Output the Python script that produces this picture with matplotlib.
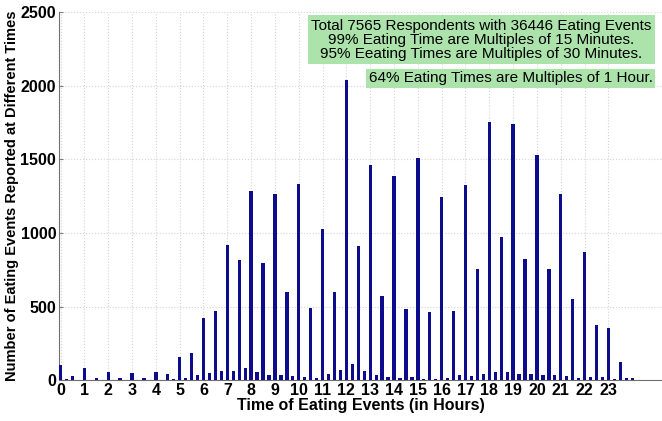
import matplotlib.pyplot as plt
import numpy as np

plt.rcParams['font.family'] = ['Liberation Sans', 'DejaVu Sans']

# eating events counted per 15-minute slot, 0:00 .. 24:00
counts = [105, 8, 30, 3, 80, 4, 16, 3,
          57, 4, 18, 3, 52, 3, 13, 3,
          55, 4, 41, 7, 158, 13, 187, 32,
          421, 52, 473, 61, 916, 64, 818, 80,
          1285, 54, 798, 34, 1262, 32, 600, 27,
          1332, 23, 487, 14, 1028, 41, 600, 68,
          2038, 108, 914, 62, 1465, 34, 570, 20,
          1386, 14, 486, 23, 1510, 9, 460, 5,
          1244, 14, 470, 32, 1328, 29, 752, 41,
          1752, 56, 971, 54, 1742, 45, 822, 45,
          1528, 34, 754, 34, 1266, 27, 550, 18,
          869, 20, 376, 23, 356, 11, 124, 16,
          14]
hours = np.arange(len(counts)) * 0.25
hour_ticks = list(range(24))

box_lines = ['Total 7565 Respondents with 36446 Eating Events',
             '99% Eating Time are Multiples of 15 Minutes.',
             '95% Eeating Times are Multiples of 30 Minutes.']
box_last = '64% Eating Times are Multiples of 1 Hour.'

fig = plt.figure(figsize=(6.62, 4.21), dpi=100)
ax = fig.add_axes([0.089, 0.097, 0.911, 0.874])

ax.bar(hours, counts, width=0.14, color='#0c0c8c', align='center', zorder=3)

ax.set_xlim(-0.07, 25.25)
ax.set_ylim(0, 2500)
ax.set_xticks(hour_ticks)
ax.set_yticks([0, 500, 1000, 1500, 2000, 2500])
ax.grid(True, linestyle=':', color='#d4d4d4', linewidth=0.8, zorder=0)
for lbl in ax.get_xticklabels() + ax.get_yticklabels():
    lbl.set_fontweight('bold')
    lbl.set_fontsize(11.5)
ax.tick_params(direction='in', length=3, pad=2, color='#808080')
ax.spines['top'].set_visible(False)
ax.spines['right'].set_visible(False)
ax.spines['left'].set_color('#707070')
ax.spines['bottom'].set_color('#707070')

ax.set_xlabel('Time of Eating Events (in Hours)', fontsize=11.5, fontweight='bold', labelpad=0)
ax.set_ylabel('Number of Eating Events Reported at Different Times', fontsize=10.5,
              fontweight='bold', labelpad=1)

ax.text(0.70, 0.925, '\n'.join(box_lines), transform=ax.transAxes, ha='center', va='center',
        fontsize=11, linespacing=1.0,
        bbox=dict(boxstyle='square,pad=0.22', facecolor='#abe3ab', edgecolor='none'), zorder=5)
ax.text(0.749, 0.82, box_last, transform=ax.transAxes, ha='center', va='center',
        fontsize=11,
        bbox=dict(boxstyle='square,pad=0.15', facecolor='#abe3ab', edgecolor='none'), zorder=5)

fig.savefig('out.png', dpi=100)
